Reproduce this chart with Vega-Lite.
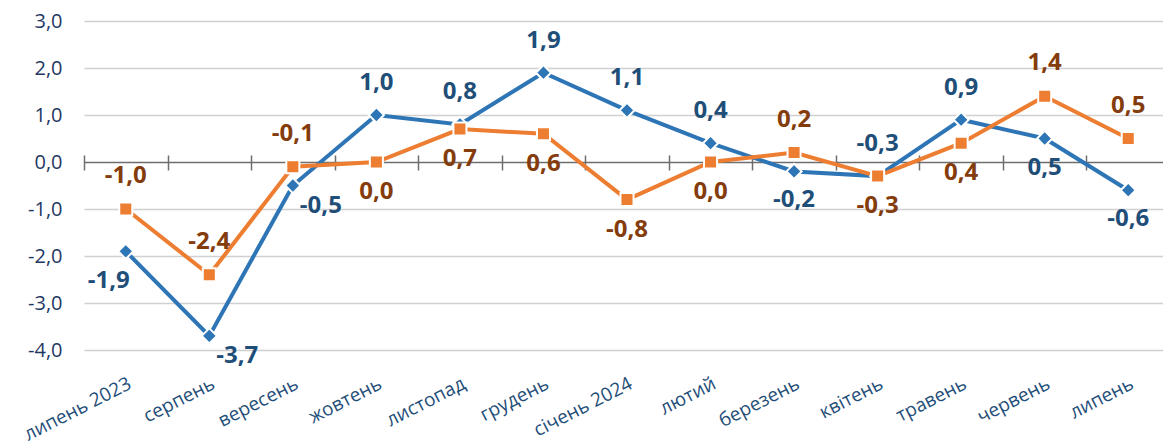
{
  "$schema": "https://vega.github.io/schema/vega-lite/v6.json",
  "width": 1086,
  "height": 329,
  "autosize": {"type": "none"},
  "padding": {"left": 84, "top": 21, "right": 0, "bottom": 93},
  "background": "white",
  "config": {
    "view": {"stroke": null},
    "locale": {"number": {"decimal": ",", "thousands": " ", "grouping": [3], "currency": ["", ""], "minus": "-"}}
  },
  "data": {
    "values": [
      {"month": "липень 2023", "series": "A", "value": -1.9},
      {"month": "серпень", "series": "A", "value": -3.7},
      {"month": "вересень", "series": "A", "value": -0.5},
      {"month": "жовтень", "series": "A", "value": 1.0},
      {"month": "листопад", "series": "A", "value": 0.8},
      {"month": "грудень", "series": "A", "value": 1.9},
      {"month": "січень 2024", "series": "A", "value": 1.1},
      {"month": "лютий", "series": "A", "value": 0.4},
      {"month": "березень", "series": "A", "value": -0.2},
      {"month": "квітень", "series": "A", "value": -0.3},
      {"month": "травень", "series": "A", "value": 0.9},
      {"month": "червень", "series": "A", "value": 0.5},
      {"month": "липень", "series": "A", "value": -0.6},
      {"month": "липень 2023", "series": "B", "value": -1.0},
      {"month": "серпень", "series": "B", "value": -2.4},
      {"month": "вересень", "series": "B", "value": -0.1},
      {"month": "жовтень", "series": "B", "value": 0.0},
      {"month": "листопад", "series": "B", "value": 0.7},
      {"month": "грудень", "series": "B", "value": 0.6},
      {"month": "січень 2024", "series": "B", "value": -0.8},
      {"month": "лютий", "series": "B", "value": 0.0},
      {"month": "березень", "series": "B", "value": 0.2},
      {"month": "квітень", "series": "B", "value": -0.3},
      {"month": "травень", "series": "B", "value": 0.4},
      {"month": "червень", "series": "B", "value": 1.4},
      {"month": "липень", "series": "B", "value": 0.5}
    ]
  },
  "encoding": {
    "x": {
      "field": "month", "type": "nominal",
      "sort": ["липень 2023","серпень","вересень","жовтень","листопад","грудень","січень 2024","лютий","березень","квітень","травень","червень","липень"],
      "scale": {"type": "band", "paddingInner": 0, "paddingOuter": 0},
      "axis": null
    },
    "y": {
      "field": "value", "type": "quantitative",
      "scale": {"domain": [-4, 3], "nice": false, "zero": false},
      "axis": {
        "values": [-4, -3, -2, -1, 0, 1, 2, 3],
        "format": ".1f",
        "title": null,
        "domain": false,
        "ticks": false,
        "grid": true,
        "gridColor": {"condition": {"test": "datum.value === 0", "value": "#6e6e6e"}, "value": "#d0d0d0"},
        "gridWidth": 1.5,
        "labelFont": "Open Sans",
        "labelFontSize": 20,
        "labelColor": "#1F3864",
        "labelPadding": 22
      }
    }
  },
  "resolve": {"axis": {"x": "independent"}},
  "layer": [
    {
      "transform": [{"filter": "datum.series === 'A'"}],
      "mark": {"type": "line", "color": "#2E75B6", "strokeWidth": 4},
      "encoding": {
        "x": {
          "field": "month", "type": "nominal",
          "sort": ["липень 2023","серпень","вересень","жовтень","листопад","грудень","січень 2024","лютий","березень","квітень","травень","червень","липень"],
          "scale": {"type": "band", "paddingInner": 0, "paddingOuter": 0},
          "axis": {
            "orient": "bottom", "offset": -195, "title": null,
            "domain": false, "labels": false, "grid": false,
            "ticks": true, "tickSize": 15, "tickColor": "#6e6e6e", "tickWidth": 1.5,
            "tickBand": "extent"
          }
        }
      }
    },
    {
      "transform": [{"filter": "datum.series === 'B'"}],
      "mark": {"type": "line", "color": "#ED7D31", "strokeWidth": 4},
      "encoding": {
        "x": {
          "field": "month", "type": "nominal",
          "sort": ["липень 2023","серпень","вересень","жовтень","листопад","грудень","січень 2024","лютий","березень","квітень","травень","червень","липень"],
          "scale": {"type": "band", "paddingInner": 0, "paddingOuter": 0},
          "axis": {
            "orient": "bottom", "title": null,
            "domain": false, "ticks": false, "grid": false,
            "labelAngle": -27, "labelAlign": "right", "labelBaseline": "top",
            "labelPadding": 24, "labelFont": "Open Sans", "labelFontSize": 19,
            "labelColor": "#1F4E79", "labelOverlap": false, "labelLimit": 300
          }
        }
      }
    },
    {
      "transform": [{"filter": "datum.series === 'A'"}],
      "mark": {"type": "point", "shape": "diamond", "filled": true, "size": 230, "color": "#2E75B6", "stroke": "white", "strokeWidth": 2, "opacity": 1}
    },
    {
      "transform": [{"filter": "datum.series === 'B'"}],
      "mark": {"type": "point", "shape": "square", "filled": true, "size": 170, "color": "#ED7D31", "stroke": "white", "strokeWidth": 2, "opacity": 1}
    },
    {
      "transform": [{"filter": "datum.series === 'A' && indexof(['жовтень','листопад','грудень','січень 2024','лютий','квітень','травень'], datum.month) >= 0"}],
      "mark": {"type": "text", "font": "Open Sans", "fontWeight": "bold", "fontSize": 24, "color": "#1F4E79", "dy": -32, "baseline": "middle"},
      "encoding": {"text": {"field": "value", "type": "quantitative", "format": ".1f"}}
    },
    {
      "transform": [{"filter": "datum.series === 'A' && indexof(['березень','червень','липень'], datum.month) >= 0"}],
      "mark": {"type": "text", "font": "Open Sans", "fontWeight": "bold", "fontSize": 24, "color": "#1F4E79", "dy": 29, "baseline": "middle"},
      "encoding": {"text": {"field": "value", "type": "quantitative", "format": ".1f"}}
    },
    {
      "transform": [{"filter": "datum.series === 'A' && datum.month === 'липень 2023'"}],
      "mark": {"type": "text", "font": "Open Sans", "fontWeight": "bold", "fontSize": 24, "color": "#1F4E79", "dx": -17, "dy": 30, "baseline": "middle"},
      "encoding": {"text": {"field": "value", "type": "quantitative", "format": ".1f"}}
    },
    {
      "transform": [{"filter": "datum.series === 'A' && indexof(['серпень','вересень'], datum.month) >= 0"}],
      "mark": {"type": "text", "font": "Open Sans", "fontWeight": "bold", "fontSize": 24, "color": "#1F4E79", "dx": 28, "dy": 20, "baseline": "middle"},
      "encoding": {"text": {"field": "value", "type": "quantitative", "format": ".1f"}}
    },
    {
      "transform": [{"filter": "datum.series === 'B' && indexof(['липень 2023','серпень','вересень','березень','червень','липень'], datum.month) >= 0"}],
      "mark": {"type": "text", "font": "Open Sans", "fontWeight": "bold", "fontSize": 24, "color": "#843C0C", "dy": -33, "baseline": "middle"},
      "encoding": {"text": {"field": "value", "type": "quantitative", "format": ".1f"}}
    },
    {
      "transform": [{"filter": "datum.series === 'B' && indexof(['жовтень','листопад','грудень','січень 2024','лютий','квітень','травень'], datum.month) >= 0"}],
      "mark": {"type": "text", "font": "Open Sans", "fontWeight": "bold", "fontSize": 24, "color": "#843C0C", "dy": 30, "baseline": "middle"},
      "encoding": {"text": {"field": "value", "type": "quantitative", "format": ".1f"}}
    }
  ]
}
